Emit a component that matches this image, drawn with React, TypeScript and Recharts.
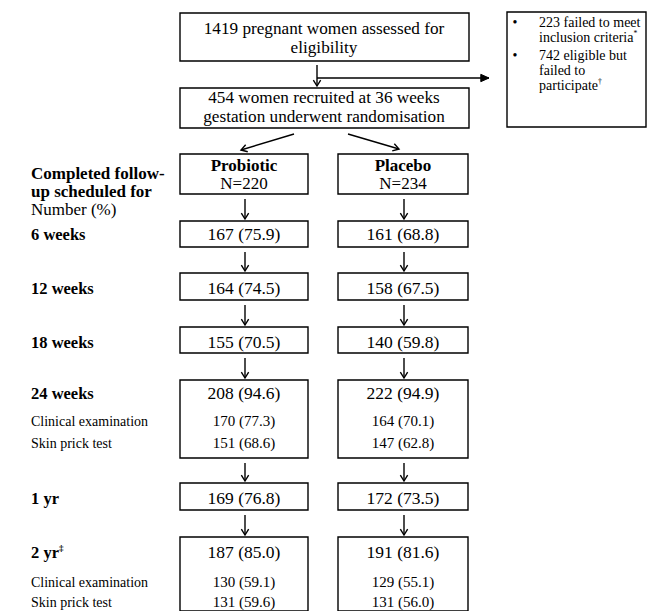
import React from 'react';
import { ComposedChart, XAxis, YAxis, Scatter, ReferenceArea, ReferenceLine } from 'recharts';

// ---- data ----
const assessedTotal = 1419;
const recruitedTotal = 454;
const failedInclusion = 223;
const eligibleNotParticipating = 742;
const groups = ['Probiotic', 'Placebo'];
const groupN = [220, 234];
const stages = ['6 weeks', '12 weeks', '18 weeks', '24 weeks', '1 yr', '2 yr'];
const stageMarks = ['', '', '', '', '', '\u2021'];
const probiotic = [167, 164, 155, 208, 169, 187];
const probioticPct = [75.9, 74.5, 70.5, 94.6, 76.8, 85.0];
const placebo = [161, 158, 140, 222, 172, 191];
const placeboPct = [68.8, 67.5, 59.8, 94.9, 73.5, 81.6];
const subMeasures = ['Clinical examination', 'Skin prick test'];
const subStages = ['24 weeks', '2 yr'];
const probioticClinical = [170, 130];
const probioticClinicalPct = [77.3, 59.1];
const probioticSkin = [151, 131];
const probioticSkinPct = [68.6, 59.6];
const placeboClinical = [164, 129];
const placeboClinicalPct = [70.1, 55.1];
const placeboSkin = [147, 131];
const placeboSkinPct = [62.8, 56.0];

// ---- layout ----
const W = 657;
const H = 611;
const FONT = '"Liberation Serif", "Times New Roman", serif';
const colLeft = [180, 338];
const colRight = [308, 468];
const headerTop = 154;
const headerBottom = 194;
const rowTop = [221, 273, 327, 380, 483, 537];
const rowBottom = [247, 300, 353, 458, 510, 640];
const rowBaseline = [240, 294, 348, 399, 504, 558];
const subBaseline = [[426, 448], [587, 607]];

const fmt = (n: number, p: number) => `${n} (${p.toFixed(1)})`;

type T = { x: number; y: number; text: string; size: number; bold?: boolean; anchor?: string; sup?: string };
const texts: T[] = [];
texts.push({ x: 324, y: 34, text: `${assessedTotal} pregnant women assessed for`, size: 17.2 });
texts.push({ x: 324, y: 53, text: 'eligibility', size: 17.2 });
texts.push({ x: 324, y: 103, text: `${recruitedTotal} women recruited at 36 weeks`, size: 17.2 });
texts.push({ x: 324, y: 122, text: 'gestation underwent randomisation', size: 17.2 });
texts.push({ x: 539, y: 27, text: `${failedInclusion} failed to meet`, size: 14, anchor: 'start' });
texts.push({ x: 539, y: 42, text: 'inclusion criteria', size: 14, anchor: 'start', sup: '*' });
texts.push({ x: 539, y: 60, text: `${eligibleNotParticipating} eligible but`, size: 14, anchor: 'start' });
texts.push({ x: 539, y: 75, text: 'failed to', size: 14, anchor: 'start' });
texts.push({ x: 539, y: 90, text: 'participate', size: 14, anchor: 'start', sup: '\u2020' });
texts.push({ x: 515, y: 27, text: '\u2022', size: 14, anchor: 'middle' });
texts.push({ x: 515, y: 60, text: '\u2022', size: 14, anchor: 'middle' });
texts.push({ x: 31, y: 179, text: 'Completed follow-', size: 17, bold: true, anchor: 'start' });
texts.push({ x: 31, y: 197, text: 'up scheduled for', size: 17, bold: true, anchor: 'start' });
texts.push({ x: 31, y: 215, text: 'Number (%)', size: 17, anchor: 'start' });
groups.forEach((g, i) => {
  const cx = (colLeft[i] + colRight[i]) / 2;
  texts.push({ x: cx, y: 171, text: g, size: 17, bold: true });
  texts.push({ x: cx, y: 189, text: `N=${groupN[i]}`, size: 17 });
});
stages.forEach((s, i) => {
  texts.push({ x: 31, y: rowBaseline[i], text: s, size: 16.5, bold: true, anchor: 'start', sup: stageMarks[i] || undefined });
  texts.push({ x: (colLeft[0] + colRight[0]) / 2, y: rowBaseline[i], text: fmt(probiotic[i], probioticPct[i]), size: 17.5 });
  texts.push({ x: (colLeft[1] + colRight[1]) / 2, y: rowBaseline[i], text: fmt(placebo[i], placeboPct[i]), size: 17.5 });
});
subStages.forEach((_, k) => {
  const b = subBaseline[k];
  subMeasures.forEach((m, j) => {
    texts.push({ x: 31, y: b[j], text: m, size: 14, anchor: 'start' });
  });
  texts.push({ x: (colLeft[0] + colRight[0]) / 2, y: b[0], text: fmt(probioticClinical[k], probioticClinicalPct[k]), size: 15 });
  texts.push({ x: (colLeft[0] + colRight[0]) / 2, y: b[1], text: fmt(probioticSkin[k], probioticSkinPct[k]), size: 15 });
  texts.push({ x: (colLeft[1] + colRight[1]) / 2, y: b[0], text: fmt(placeboClinical[k], placeboClinicalPct[k]), size: 15 });
  texts.push({ x: (colLeft[1] + colRight[1]) / 2, y: b[1], text: fmt(placeboSkin[k], placeboSkinPct[k]), size: 15 });
});

type A = { x1: number; y1: number; x2: number; y2: number; head: 'none' | 'open' | 'filled' };
const arrows: A[] = [];
arrows.push({ x1: 317, y1: 65, x2: 317, y2: 86, head: 'open' });
arrows.push({ x1: 317, y1: 78, x2: 489, y2: 78, head: 'filled' });
arrows.push({ x1: 294, y1: 134, x2: 241, y2: 150, head: 'open' });
arrows.push({ x1: 348, y1: 134, x2: 399, y2: 149, head: 'open' });
[0, 1].forEach((c) => {
  const cx = (colLeft[c] + colRight[c]) / 2 + 1;
  const bottoms = [headerBottom, ...rowBottom.slice(0, -1)];
  bottoms.forEach((b, i) => {
    arrows.push({ x1: cx, y1: b + 5, x2: cx, y2: rowTop[i] - 2, head: 'open' });
  });
});

const boxes: { x1: number; x2: number; y1: number; y2: number }[] = [];
boxes.push({ x1: 180, x2: 469, y1: 13, y2: 61 });
boxes.push({ x1: 180, x2: 469, y1: 88, y2: 128 });
boxes.push({ x1: 507, x2: 646, y1: 12, y2: 127 });
[0, 1].forEach((c) => {
  boxes.push({ x1: colLeft[c], x2: colRight[c], y1: headerTop, y2: headerBottom });
  rowTop.forEach((t, i) => boxes.push({ x1: colLeft[c], x2: colRight[c], y1: t, y2: rowBottom[i] }));
});

const ArrowShape = (head: A['head']) => (p: any) => {
  const { x1, y1, x2, y2 } = p;
  const ang = Math.atan2(y2 - y1, x2 - x1);
  const L = head === 'filled' ? 9 : 7;
  const sp = head === 'filled' ? 0.42 : 0.55;
  const ax = x2 - L * Math.cos(ang - sp);
  const ay = y2 - L * Math.sin(ang - sp);
  const bx = x2 - L * Math.cos(ang + sp);
  const by = y2 - L * Math.sin(ang + sp);
  return (
    <g>
      <line x1={x1} y1={y1} x2={x2} y2={y2} stroke="#000" strokeWidth={1.4} />
      {head === 'open' && (
        <path d={`M${ax},${ay}L${x2},${y2}L${bx},${by}`} fill="none" stroke="#000" strokeWidth={1.4} />
      )}
      {head === 'filled' && <path d={`M${ax},${ay}L${x2},${y2}L${bx},${by}Z`} fill="#000" stroke="#000" />}
    </g>
  );
};

const TextShape = (p: any) => {
  const d: T = p.payload;
  return (
    <text
      x={p.cx}
      y={p.cy}
      textAnchor={(d.anchor as any) || 'middle'}
      fontSize={d.size}
      fontWeight={d.bold ? 'bold' : 'normal'}
      fontFamily={FONT}
      fill="#000"
    >
      {d.text}
      {d.sup && (
        <tspan fontSize={d.size * 0.55} dy={-d.size * 0.4}>
          {d.sup}
        </tspan>
      )}
    </text>
  );
};

export default function App() {
  return (
    <div style={{ position: 'absolute', left: 0, top: 0, width: W, height: H, background: '#fff' }}>
      <ComposedChart width={W} height={H} margin={{ top: 0, right: 0, bottom: 0, left: 0 }}>
        <XAxis type="number" dataKey="x" domain={[0, W]} hide allowDataOverflow />
        <YAxis type="number" dataKey="y" domain={[0, H]} reversed hide allowDataOverflow />
        {boxes.map((b, i) => (
          <ReferenceArea
            key={`b${i}`}
            x1={b.x1}
            x2={b.x2}
            y1={b.y1}
            y2={Math.min(b.y2, H)}
            fill="none"
            fillOpacity={0}
            stroke="#000"
            strokeWidth={1.4}
            ifOverflow="visible"
          />
        ))}
        {arrows.map((a, i) => (
          <ReferenceLine
            key={`a${i}`}
            segment={[
              { x: a.x1, y: a.y1 },
              { x: a.x2, y: a.y2 },
            ]}
            stroke="#000"
            ifOverflow="visible"
            shape={ArrowShape(a.head)}
          />
        ))}
        <Scatter data={texts} dataKey="y" shape={TextShape} isAnimationActive={false} />
      </ComposedChart>
    </div>
  );
}
